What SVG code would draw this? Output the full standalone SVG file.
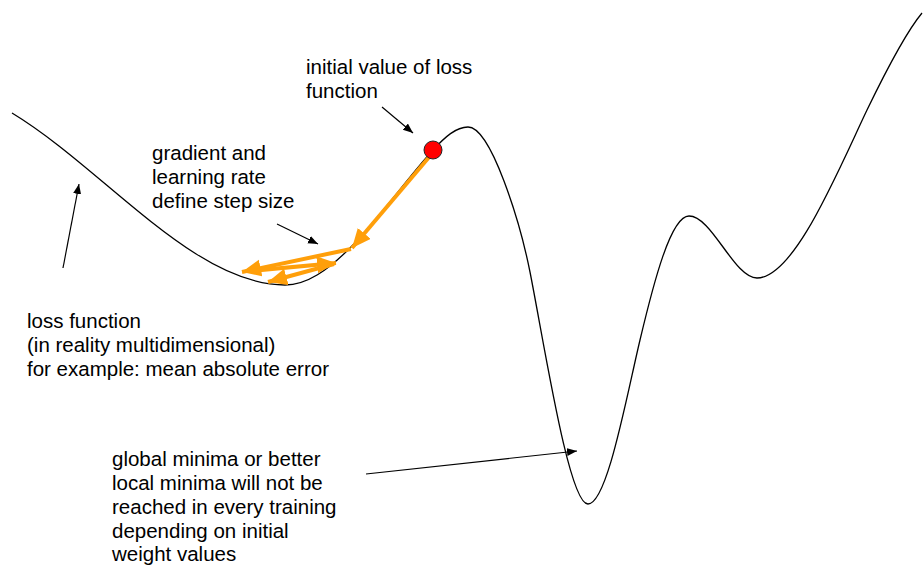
<svg xmlns="http://www.w3.org/2000/svg" width="923" height="568" viewBox="0 0 923 568">
<style>
text{font-family:"Liberation Sans",Arial,sans-serif;font-size:20.5px;fill:#000}
.curve{fill:none;stroke:#000;stroke-width:1.3}
.ptr{fill:none;stroke:#000;stroke-width:1.2}
.step{fill:none;stroke:#ff9f0a;stroke-width:4}
</style>
<defs>
<marker id="ah" markerUnits="userSpaceOnUse" markerWidth="12" markerHeight="10" refX="10" refY="4" orient="auto"><path d="M0,0 L10,4 L0,8 Z" fill="#000"/></marker>
<marker id="oh" markerUnits="userSpaceOnUse" markerWidth="22" markerHeight="20" refX="19" refY="8.5" orient="auto"><path d="M0,0 L19,8.5 L0,17 Z" fill="#ff9f0a"/></marker>
</defs>
<g id="loss-curve">
<path class="curve" d="M12,113 C103,168 194,285 285,285 C307,285 328,270 350,248 C378,220 405,181 433,150 C445,137 456,127 468,127 C491,127 520,222 530,272 C545,348 569,504 588,504 C607,504 626,399 640,340 C654,281 671,216 689,216 C712,216 734,278 757,278 C794,278 837,173 867,110 C882,79 907,31 922,13"/>
</g>
<g id="connectors">
<path class="ptr" d="M382,107 L413,133" marker-end="url(#ah)"/>
<path class="ptr" d="M277,224 L318,244" marker-end="url(#ah)"/>
<path class="ptr" d="M63,268 L79,184" marker-end="url(#ah)"/>
<path class="ptr" d="M366,474 L577,451" marker-end="url(#ah)"/>
<path class="step" d="M430,156 L352,248" marker-end="url(#oh)"/>
<path class="step" d="M351,249 L242,272" marker-end="url(#oh)"/>
<path class="step" d="M250,271 L336,263" marker-end="url(#oh)"/>
<path class="step" d="M334,264 L268,282" marker-end="url(#oh)"/>
</g>
<g id="initial-point">
<circle cx="433" cy="150" r="9" fill="#ff0000" stroke="#222" stroke-width="1"/>
</g>
<g id="label-initial">
<text x="306" y="74">initial value of loss</text>
<text x="306" y="98">function</text>
</g>
<g id="label-gradient">
<text x="152" y="160">gradient and</text>
<text x="152" y="184">learning rate</text>
<text x="152" y="208">define step size</text>
</g>
<g id="label-loss">
<text x="27" y="328">loss function</text>
<text x="27" y="352">(in reality multidimensional)</text>
<text x="27" y="376">for example: mean absolute error</text>
</g>
<g id="label-global">
<text x="112" y="466">global minima or better</text>
<text x="112" y="490">local minima will not be</text>
<text x="112" y="514">reached in every training</text>
<text x="112" y="538">depending on initial</text>
<text x="112" y="561">weight values</text>
</g>
</svg>
